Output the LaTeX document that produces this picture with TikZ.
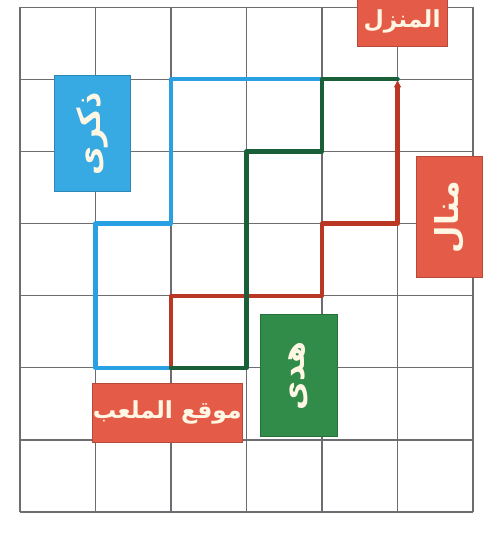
\documentclass[tikz,border=0pt]{standalone}
\usepackage{fontspec}
\usepackage{xcolor}
\usepackage{tikz}
\usetikzlibrary{arrows.meta,positioning}
\TeXXeTstate=1
\newfontfamily\arabicfont[Script=Arabic]{DejaVu Sans}
\definecolor{GridGray}{RGB}{110,108,112}
\definecolor{RouteBlue}{RGB}{40,160,225}
\definecolor{RouteGreen}{RGB}{25,95,55}
\definecolor{RouteRed}{RGB}{185,55,35}
\definecolor{TagRed}{RGB}{228,92,72}
\definecolor{TagBlue}{RGB}{55,170,228}
\definecolor{TagGreen}{RGB}{48,140,72}
\definecolor{TagText}{RGB}{255,246,228}

\begin{document}
\begin{tikzpicture}[
  x=2.265cm, y=2.163cm,
  gridline/.style={draw=GridGray, line width=1.1pt},
  route/.style={line width=3.6pt, line cap=round, line join=round},
  tag/.style={
    draw=#1!80!black,
    fill=#1,
    text=TagText,
    inner sep=0pt,
    line width=0.6pt,
    align=center,
    font=\arabicfont\bfseries\fontsize{27}{29}\selectfont
  }
]
\useasboundingbox[fill=white] (-0.265,-0.596) rectangle (6.132,7.101);
\draw[gridline, step=1] (0,0) grid (6,7);

\coordinate (start) at (2,2);
\coordinate (home) at (5,6);

% routes from the playground to the house
\draw[route, RouteBlue] (start) -- ++(-1,0) -- ++(0,2) -- ++(1,0) -- ++(0,2) -- (home);
\draw[route, RouteRed, -{Latex[length=2.4mm,width=2.4mm]}] (start) -- ++(0,1) -- ++(2,0) -- ++(0,1) -- ++(1,0) -- (home);
\draw[route, RouteGreen] (start) -- ++(1,0) -- ++(0,3) -- ++(1,0) -- ++(0,1) -- (home);

\node[tag=TagRed, minimum width=2.70cm, minimum height=1.45cm] (house) at (5.06,6.8)
  {\fontsize{20}{22}\selectfont\beginR المنزل\endR};
\node[tag=TagBlue, rotate=90, minimum width=3.50cm, minimum height=2.27cm] (dhikra) at (0.96,5.25)
  {\beginR ذكرى\endR};
\node[tag=TagRed, rotate=90, minimum width=3.63cm, minimum height=1.99cm] (manal) at (5.69,4.09)
  {\beginR منال\endR};
\node[tag=TagGreen, rotate=90, minimum width=3.66cm, minimum height=2.31cm] (huda) at (3.69,1.89)
  {\beginR هدى\endR};
\node[tag=TagRed, minimum width=4.51cm, minimum height=1.77cm] (playground) at (1.95,1.38)
  {\fontsize{20}{22}\selectfont\beginR موقع الملعب\endR};
\end{tikzpicture}
\end{document}
